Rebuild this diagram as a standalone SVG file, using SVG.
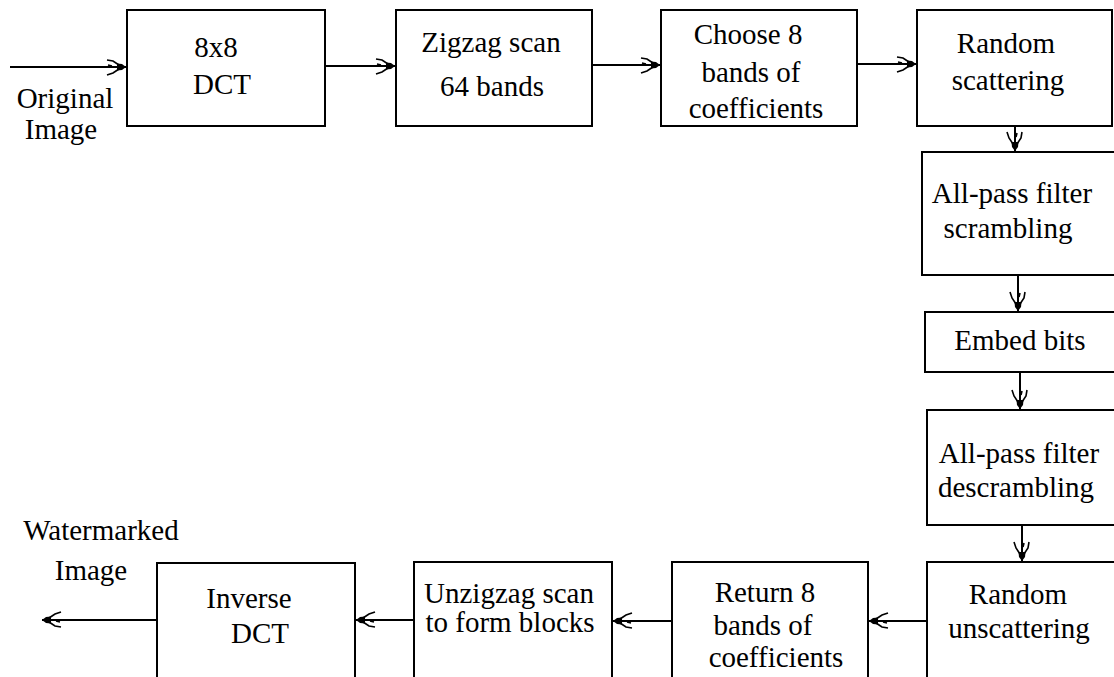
<svg xmlns="http://www.w3.org/2000/svg" width="1114" height="677" viewBox="0 0 1114 677">
<style>
.box{fill:#fff;stroke:#000;stroke-width:2}
.t{font-family:"Liberation Serif",serif;font-size:29px;fill:#000;text-anchor:middle}
.c{stroke:#000;stroke-width:2;fill:none}
</style>
<defs>
<marker id="ah" viewBox="-22 -10 24 20" refX="0" refY="0" markerWidth="24" markerHeight="20" markerUnits="userSpaceOnUse" orient="auto">
<polygon points="0,0 -4,-3 -9,-3.5 -9,3.5 -4,3" fill="#000"/>
<path d="M-7,-2 L-13,-6 L-19,-7 M-7,2 L-13,6 L-19,8 M-14,-1 L-18,-2" stroke="#000" stroke-width="1.6" fill="none"/>
</marker>
</defs>
<rect width="1114" height="677" fill="#fff"/>
<g id="connectors">
<line class="c" x1="10" y1="67" x2="126" y2="67" marker-end="url(#ah)"/>
<line class="c" x1="325" y1="66" x2="395" y2="66" marker-end="url(#ah)"/>
<line class="c" x1="592" y1="65" x2="660" y2="65" marker-end="url(#ah)"/>
<line class="c" x1="857" y1="64" x2="916" y2="64" marker-end="url(#ah)"/>
<line class="c" x1="1015" y1="126" x2="1015" y2="151" marker-end="url(#ah)"/>
<line class="c" x1="1018" y1="275" x2="1018" y2="311" marker-end="url(#ah)"/>
<line class="c" x1="1020" y1="372" x2="1020" y2="409" marker-end="url(#ah)"/>
<line class="c" x1="1022" y1="525" x2="1022" y2="561" marker-end="url(#ah)"/>
<line class="c" x1="927" y1="621" x2="869" y2="621" marker-end="url(#ah)"/>
<line class="c" x1="672" y1="621" x2="613" y2="621" marker-end="url(#ah)"/>
<line class="c" x1="414" y1="620" x2="356" y2="620" marker-end="url(#ah)"/>
<line class="c" x1="157" y1="620" x2="42" y2="620" marker-end="url(#ah)"/>
</g>
<g id="lbl-original">
<text class="t" x="65" y="108">Original</text>
<text class="t" x="61" y="139">Image</text>
</g>
<g id="lbl-watermarked">
<text class="t" x="101" y="540">Watermarked</text>
<text class="t" x="91" y="580">Image</text>
</g>
<g id="n1">
<rect class="box" x="127" y="10" width="198" height="116"/>
<text class="t" x="216" y="57">8x8</text>
<text class="t" x="222" y="94">DCT</text>
</g>
<g id="n2">
<rect class="box" x="396" y="10" width="196" height="116"/>
<text class="t" x="491" y="52">Zigzag scan</text>
<text class="t" x="492" y="96">64 bands</text>
</g>
<g id="n3">
<rect class="box" x="661" y="10" width="196" height="116"/>
<text class="t" x="748" y="44">Choose 8</text>
<text class="t" x="751" y="82">bands of</text>
<text class="t" x="756" y="118">coefficients</text>
</g>
<g id="n4">
<rect class="box" x="917" y="10" width="195" height="116"/>
<text class="t" x="1006" y="53">Random</text>
<text class="t" x="1008" y="90">scattering</text>
</g>
<g id="n5">
<rect class="box" x="922" y="152" width="200" height="123"/>
<text class="t" x="1012" y="203">All-pass filter</text>
<text class="t" x="1008" y="238">scrambling</text>
</g>
<g id="n6">
<rect class="box" x="925" y="312" width="200" height="60"/>
<text class="t" x="1020" y="350">Embed bits</text>
</g>
<g id="n7">
<rect class="box" x="927" y="410" width="200" height="115"/>
<text class="t" x="1019" y="463">All-pass filter</text>
<text class="t" x="1016" y="497">descrambling</text>
</g>
<g id="n8">
<rect class="box" x="927" y="562" width="200" height="130"/>
<text class="t" x="1018" y="604">Random</text>
<text class="t" x="1019" y="638">unscattering</text>
</g>
<g id="n9">
<rect class="box" x="672" y="562" width="196" height="130"/>
<text class="t" x="765" y="602">Return 8</text>
<text class="t" x="763" y="635">bands of</text>
<text class="t" x="776" y="667">coefficients</text>
</g>
<g id="n10">
<rect class="box" x="414" y="562" width="198" height="130"/>
<text class="t" x="509" y="603">Unzigzag scan</text>
<text class="t" x="510" y="632">to form blocks</text>
</g>
<g id="n11">
<rect class="box" x="157" y="563" width="198" height="130"/>
<text class="t" x="249" y="608">Inverse</text>
<text class="t" x="260" y="643">DCT</text>
</g>
</svg>
